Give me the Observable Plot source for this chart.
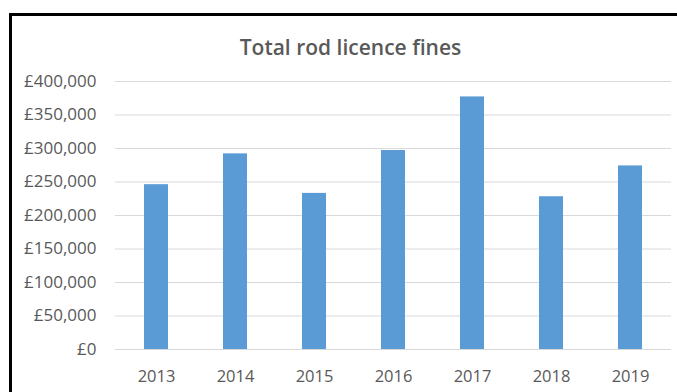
<!DOCTYPE html>
<html>
<head>
<meta charset="utf-8">
<script src="https://cdn.jsdelivr.net/npm/d3@7"></script>
<script src="https://cdn.jsdelivr.net/npm/@observablehq/plot@0.6"></script>
<style>
  html, body { margin: 0; padding: 0; background: #fff; overflow: hidden; }
  #wrap { position: relative; width: 677px; height: 392px; }
  #frame { position: absolute; left: 9px; top: 13px; width: 720px; height: 420px; border: 3px solid #000; box-sizing: border-box; }
  #title { position: absolute; left: 0; width: 701px; top: 37px; text-align: center; line-height: 21px;
           font-family: "Open Sans", sans-serif; font-weight: 600; font-size: 21px; color: #595959; }
  #chart { position: absolute; left: 0; top: 0; }
</style>
</head>
<body>
<div id="wrap">
  <div id="frame"></div>
  <div id="title">Total rod licence fines</div>
  <div id="chart"></div>
</div>
<script>
const years = ["2013", "2014", "2015", "2016", "2017", "2018", "2019"];
const fines = [246000, 292000, 233000, 297000, 377000, 228000, 274000];
const yTicks = [0, 50000, 100000, 150000, 200000, 250000, 300000, 350000, 400000];

const data = years.map((y, i) => ({year: y, value: fines[i]}));
const fmt = d => "£" + d3.format(",")(d);

const chart = Plot.plot({
  width: 677,
  height: 392,
  marginLeft: 115,
  marginRight: 6,
  marginTop: 81,
  marginBottom: 43,
  style: {fontFamily: "Open Sans, sans-serif", color: "#595959", background: "transparent"},
  x: {domain: years, paddingInner: 0.69, paddingOuter: 0.345, label: null},
  y: {domain: [0, 400000], label: null},
  marks: [
    Plot.gridY(yTicks, {stroke: "#d9d9d9", strokeOpacity: 1, strokeWidth: 1}),
    Plot.barY(data, {x: "year", y: "value", fill: "#5B9BD5"}),
    Plot.axisY(yTicks, {tickSize: 0, tickPadding: 19, tickFormat: fmt, fontSize: 17, label: null, fill: "#595959"}),
    Plot.axisX({tickSize: 0, tickPadding: 21, fontSize: 16.5, label: null, fill: "#595959"})
  ]
});
document.getElementById("chart").appendChild(chart);
</script>
</body>
</html>
